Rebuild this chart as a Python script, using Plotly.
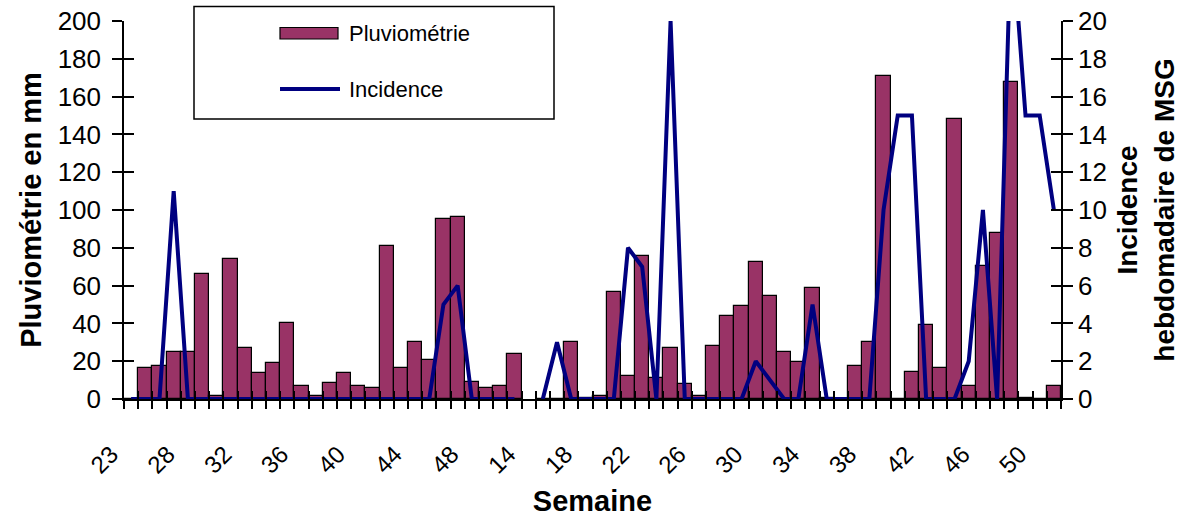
import plotly.graph_objects as go

# Week labels (two seasons)
weeks = [23, 25, 26, 27, 28, 29, 30, 31, 32, 33, 34, 35, 36, 37, 38, 39, 40, 41, 42, 43,
         44, 45, 46, 47, 48, 49, 50, 51,
         14, 15, 16, 17, 18, 19, 20, 21, 22, 23, 24, 25, 26, 27, 28, 29, 30, 31, 32, 33,
         34, 35, 36, 37, 38, 39, 40, 41, 42, 43, 44, 45, 46, 47, 48, 49, 50, 51]

# Rainfall (mm)
pluviometrie = [0, 16.6, 17.6, 25.0, 25.0, 66.1, 1.8, 73.9, 27.2, 13.6,
                18.9, 40.0, 7.1, 1.8, 8.3, 13.6, 7.1, 6.0, 81.1, 16.6,
                30.3, 20.8, 95.1, 96.1, 9.2, 6.0, 7.1, 24.0,
                None, 0, 0, 30.3, 0.7, 1.8, 56.8, 12.3, 75.8, 11.3,
                27.2, 8.1, 1.8, 28.2, 44.1, 49.4, 72.7, 54.7, 25.0, 19.8,
                58.9, 0.7, 0, 17.6, 30.3, 171.1, 0, 14.5, 39.2, 16.6,
                148.0, 7.1, 70.5, 87.7, 167.9, 0.7, 0, 7.1]

# Weekly incidence of MSG
incidence = [0, 0, 0, 11, 0, 0, 0, 0, 0, 0,
             0, 0, 0, 0, 0, 0, 0, 0, 0, 0,
             0, 0, 5, 6, 0, 0, 0, 0,
             None, 0, 3, 0, 0, 0, 0, 8, 7, 0, 20, 0,
             0, 0, 0, 0, 2, 1, 0, 0, 5, 0,
             0, 0, 0, 10, 15, 15, 0, 0, 0, 2,
             10, 0, 25, 15, 15, 10]

n = len(weeks)
xpos = list(range(n))
label_step = 4
label_pos = xpos[::label_step]
label_text = [str(w) for w in weeks[::label_step]]
bounds = [i - 0.5 for i in range(n + 1)]

FONT = "Liberation Sans, Arial, sans-serif"
BAR_COLOR = "#993366"
LINE_COLOR = "#000080"

W, H = 1190, 522
ML, MR, MT, MB = 124, 129, 21, 123

fig = go.Figure()
fig.add_trace(go.Bar(x=xpos, y=pluviometrie, width=1, name="Pluviométrie",
                     marker=dict(color=BAR_COLOR, line=dict(color="black", width=1.2)),
                     showlegend=False))
fig.add_trace(go.Scatter(x=xpos, y=incidence, mode="lines", yaxis="y2", name="Incidence",
                         connectgaps=False, line=dict(color=LINE_COLOR, width=4),
                         showlegend=False))
# helper traces to show the inner half of the cross tick marks
fig.add_trace(go.Scatter(x=[None], y=[None], xaxis="x3", yaxis="y3", showlegend=False, hoverinfo="skip"))
fig.add_trace(go.Scatter(x=[None], y=[None], xaxis="x", yaxis="y4", showlegend=False, hoverinfo="skip"))

xr = [-0.5, n - 0.5]
ytickfont = dict(family=FONT, size=26, color="black")
xtickfont = dict(family=FONT, size=24, color="black")
titlefont = dict(family=FONT, size=29, color="black", weight="bold")
rtitlefont = dict(family=FONT, size=28, color="black", weight="bold")

fig.update_layout(
    width=W, height=H,
    margin=dict(l=ML, r=MR, t=MT, b=MB, autoexpand=False),
    paper_bgcolor="white", plot_bgcolor="white",
    bargap=0, showlegend=False,
    font=dict(family=FONT, color="black"),
    xaxis=dict(range=xr, tickmode="array", tickvals=label_pos, ticktext=label_text,
               ticks="", tickangle=-45, tickfont=xtickfont, automargin=False,
               ticklabelstandoff=30, ticklabelshift=-20,
               showline=True, linecolor="black", linewidth=1.5,
               showgrid=False, zeroline=False,
               minor=dict(tickmode="array", tickvals=bounds, ticks="outside",
                          ticklen=8, tickwidth=1.5, tickcolor="black"),
               title=dict(text="Semaine", font=titlefont, standoff=13)),
    xaxis3=dict(range=xr, overlaying="x", anchor="y", side="bottom", automargin=False,
                tickmode="array", tickvals=bounds, ticks="inside", ticklen=8,
                tickwidth=1.5, tickcolor="black", showticklabels=False,
                showline=False, showgrid=False, zeroline=False),
    yaxis=dict(range=[0, 200], dtick=20, ticks="outside", ticklen=10, tickwidth=1.5,
               tickcolor="black", tickfont=ytickfont, showline=True, linecolor="black",
               linewidth=1.5, showgrid=False, zeroline=False, automargin=False,
               ticklabelstandoff=6, ticklabeloverflow="allow",
               title=dict(text="Pluviométrie en mm", font=titlefont, standoff=8)),
    yaxis2=dict(range=[0, 20], dtick=2, overlaying="y", side="right", anchor="x",
                ticks="outside", ticklen=10, tickwidth=1.5, tickcolor="black",
                tickfont=ytickfont, showline=True, linecolor="black", linewidth=1.5,
                showgrid=False, zeroline=False, ticklabeloverflow="allow", automargin=False,
                title=dict(text="Incidence<br>hebdomadaire de MSG", font=rtitlefont, standoff=12)),
    yaxis3=dict(range=[0, 200], dtick=20, overlaying="y", side="left", anchor="x3",
                ticks="inside", ticklen=10, tickwidth=1.5, tickcolor="black", automargin=False,
                showticklabels=False, showline=False, showgrid=False, zeroline=False),
    yaxis4=dict(range=[0, 200], dtick=20, overlaying="y", side="right", anchor="x",
                ticks="inside", ticklen=10, tickwidth=1.5, tickcolor="black", automargin=False,
                showticklabels=False, showline=False, showgrid=False, zeroline=False),
)

# Manual legend (box, swatches, labels) in paper coordinates
pw = W - ML - MR
ph = H - MT - MB
def px(xs):
    return (xs - ML) / pw
def py(ys):
    return (H - MB - ys) / ph

fig.add_shape(type="rect", xref="paper", yref="paper", x0=px(194), x1=px(554), y0=py(119), y1=py(6.5),
              line=dict(color="black", width=1.5), fillcolor="white", layer="above")
fig.add_shape(type="rect", xref="paper", yref="paper", x0=px(280), x1=px(338), y0=py(39), y1=py(27.5),
              line=dict(color="black", width=1.2), fillcolor=BAR_COLOR, layer="above")
fig.add_shape(type="line", xref="paper", yref="paper", x0=px(280), x1=px(340), y0=py(89), y1=py(89),
              line=dict(color=LINE_COLOR, width=4), layer="above")
legfont = dict(family=FONT, size=22, color="black")
fig.add_annotation(text="Pluviométrie", xref="paper", yref="paper", x=px(347), y=py(33),
                   xanchor="left", yanchor="middle", showarrow=False, font=legfont)
fig.add_annotation(text="Incidence", xref="paper", yref="paper", x=px(347), y=py(89),
                   xanchor="left", yanchor="middle", showarrow=False, font=legfont)

# remove the default page margin so the figure sits at the window's top-left corner
fig.write_html("out.html", config={"displayModeBar": False},
               post_script="document.body.style.margin='0px';")
